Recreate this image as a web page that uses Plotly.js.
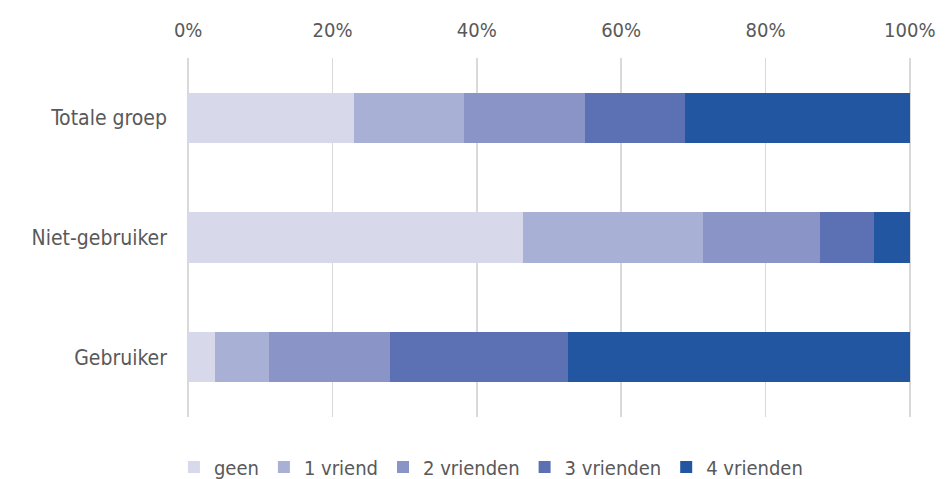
<!DOCTYPE html>
<html>
<head>
<meta charset="utf-8">
<script src="https://cdn.plot.ly/plotly-3.0.1.min.js"></script>
<style>
  html, body { margin: 0; padding: 0; background: #fff; }
  #chart { width: 948px; height: 479px; }
</style>
</head>
<body>
<div id="chart"></div>
<script>
// groups, bottom to top
var groups = ['Gebruiker', 'Niet-gebruiker', 'Totale groep'];

var seriesNames = ['geen', '1 vriend', '2 vrienden', '3 vrienden', '4 vrienden'];

// percentages per group (same order as groups)
var geen     = [3.7, 46.4, 23.0];
var vriend1  = [7.5, 24.9, 15.2];
var vriend2  = [16.8, 16.3, 16.8];
var vriend3  = [24.6, 7.4, 13.9];
var vriend4  = [47.4, 5.0, 31.1];

var colors = ['#D7D8EA', '#A8B0D6', '#8A94C6', '#5C71B3', '#2356A0'];

var allValues = [geen, vriend1, vriend2, vriend3, vriend4];

var font = 'DejaVu Sans Condensed, Liberation Sans Narrow, Arial, sans-serif';

var data = allValues.map(function (vals, i) {
    return {
        type: 'bar',
        orientation: 'h',
        name: seriesNames[i],
        y: groups,
        x: vals,
        marker: { color: colors[i], line: { width: 0 } },
        hoverinfo: 'name+x'
    };
});

var layout = {
    width: 948,
    height: 479,
    barmode: 'stack',
    bargap: 0.58,
    margin: { l: 186, r: 36, t: 58, b: 62, autoexpand: false },
    paper_bgcolor: '#fff',
    plot_bgcolor: '#fff',
    font: { family: font, size: 20, color: '#595959' },
    xaxis: {
        side: 'top',
        range: [-0.3, 100.3],
        tickvals: [0, 20, 40, 60, 80, 100],
        ticktext: ['0%', '20%', '40%', '60%', '80%', '100%'],
        showgrid: true,
        gridcolor: '#D9D9D9',
        gridwidth: 1.5,
        zeroline: false,
        showline: false,
        ticks: '',
        ticklabelstandoff: 16,
        tickfont: { family: font, size: 20, color: '#595959' },
        fixedrange: true
    },
    yaxis: {
        type: 'category',
        categoryorder: 'array',
        categoryarray: groups,
        showgrid: false,
        zeroline: false,
        showline: false,
        ticks: '',
        ticklabelstandoff: 18,
        tickfont: { family: font, size: 21, color: '#595959' },
        fixedrange: true
    },
    showlegend: true,
    legend: {
        orientation: 'h',
        x: 0.42,
        xanchor: 'center',
        yref: 'container',
        y: 0.025,
        yanchor: 'middle',
        traceorder: 'normal',
        font: { family: font, size: 20, color: '#595959' },
        itemwidth: 30
    }
};

Plotly.newPlot('chart', data, layout, { displayModeBar: false, staticPlot: true });
</script>
</body>
</html>
